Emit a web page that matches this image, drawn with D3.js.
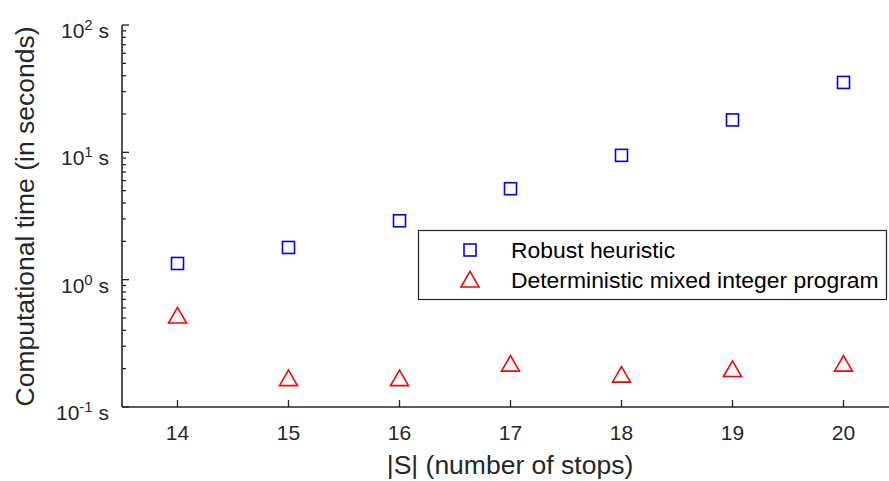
<!DOCTYPE html>
<html>
<head>
<meta charset="utf-8">
<script src="https://cdn.jsdelivr.net/npm/d3@7"></script>
<style>
  html, body { margin: 0; padding: 0; background: #fff; }
  svg { display: block; font-family: "Liberation Sans", Arial, Helvetica, sans-serif; }
</style>
</head>
<body>
<svg id="chart" width="889" height="481"></svg>
<script>
// Number of stops |S|
const stops = [14, 15, 16, 17, 18, 19, 20];
// Computational time in seconds
const robustHeuristic = [1.34, 1.79, 2.90, 5.18, 9.47, 17.96, 35.4];
const deterministicMIP = [0.518, 0.167, 0.167, 0.217, 0.178, 0.197, 0.217];
// Axis ticks
const xTicks = [14, 15, 16, 17, 18, 19, 20];
const yExponents = [-1, 0, 1, 2];
const seriesNames = ["Robust heuristic", "Deterministic mixed integer program"];

const svg = d3.select("#chart");
const axisColor = "#262626";
const plotLeft = 122, plotTop = 25, plotBottom = 407, plotRight = 899;

const x = d3.scaleLinear().domain([13.5, 20.5]).range([plotLeft, plotRight]);
const y = d3.scaleLog().domain([0.1, 100]).range([plotBottom, plotTop]);

// Y axis: majors at each decade, minors at 2..9, ticks pointing inward
const minorY = [];
for (let e = -1; e < 2; e++) for (let m = 2; m <= 9; m++) minorY.push(m * Math.pow(10, e));

const yg = svg.append("g");
yg.append("line").attr("x1", plotLeft).attr("x2", plotLeft).attr("y1", plotTop).attr("y2", plotBottom)
  .attr("stroke", axisColor).attr("stroke-width", 1.6);
yg.selectAll("line.minor").data(minorY).join("line").attr("class", "minor")
  .attr("x1", plotLeft).attr("x2", plotLeft + 4).attr("y1", d => y(d)).attr("y2", d => y(d))
  .attr("stroke", axisColor).attr("stroke-width", 1.3);
yg.selectAll("line.major").data(yExponents).join("line").attr("class", "major")
  .attr("x1", plotLeft).attr("x2", plotLeft + 7).attr("y1", d => y(Math.pow(10, d))).attr("y2", d => y(Math.pow(10, d)))
  .attr("stroke", axisColor).attr("stroke-width", 1.3);

const yl = yg.selectAll("text.ylab").data(yExponents).join("text").attr("class", "ylab")
  .attr("x", plotLeft - 13).attr("y", d => y(Math.pow(10, d)) + 13)
  .attr("text-anchor", "end").attr("fill", axisColor).attr("font-size", 21);
yl.append("tspan").text("10");
yl.append("tspan").attr("dy", -8).attr("font-size", 15).text(d => d);
yl.append("tspan").attr("dy", 8).text(" s");

// X axis
const xg = svg.append("g");
xg.append("line").attr("x1", plotLeft).attr("x2", plotRight).attr("y1", plotBottom).attr("y2", plotBottom)
  .attr("stroke", axisColor).attr("stroke-width", 1.6);
xg.selectAll("line.tick").data(xTicks).join("line").attr("class", "tick")
  .attr("x1", d => x(d)).attr("x2", d => x(d)).attr("y1", plotBottom).attr("y2", plotBottom - 7)
  .attr("stroke", axisColor).attr("stroke-width", 1.3);
xg.selectAll("text").data(xTicks).join("text")
  .attr("x", d => x(d)).attr("y", plotBottom + 33)
  .attr("text-anchor", "middle").attr("fill", axisColor).attr("font-size", 21)
  .text(d => d);

// Axis titles
svg.append("text").attr("x", 510).attr("y", 474)
  .attr("text-anchor", "middle").attr("fill", axisColor).attr("font-size", 26.5)
  .text("|S| (number of stops)");
svg.append("text").attr("transform", `translate(34,${(28 + 405) / 2}) rotate(-90)`)
  .attr("text-anchor", "middle").attr("fill", axisColor).attr("font-size", 26.5)
  .text("Computational time (in seconds)");

// Markers
const sq = 12;
const triPath = (cx, cy, s) => {
  const h = s * 0.866;
  return `M${cx},${cy - h * 0.55}L${cx + s / 2},${cy + h * 0.45}L${cx - s / 2},${cy + h * 0.45}Z`;
};

svg.append("g").selectAll("rect").data(stops).join("rect")
  .attr("x", (d, i) => x(d) - sq / 2).attr("y", (d, i) => y(robustHeuristic[i]) - sq / 2)
  .attr("width", sq).attr("height", sq)
  .attr("fill", "none").attr("stroke", "#0000ff").attr("stroke-width", 1.6);

svg.append("g").selectAll("path").data(stops).join("path")
  .attr("d", (d, i) => triPath(x(d), y(deterministicMIP[i]), 18))
  .attr("fill", "none").attr("stroke", "#ff0000").attr("stroke-width", 1.6);

// Legend
const lg = svg.append("g");
lg.append("rect").attr("x", 418.5).attr("y", 230.5).attr("width", 468).attr("height", 69)
  .attr("fill", "#fff").attr("stroke", axisColor).attr("stroke-width", 1.2);
lg.append("rect").attr("x", 470 - sq / 2).attr("y", 250 - sq / 2).attr("width", sq).attr("height", sq)
  .attr("fill", "none").attr("stroke", "#0000ff").attr("stroke-width", 1.6);
lg.append("path").attr("d", triPath(470, 280, 18))
  .attr("fill", "none").attr("stroke", "#ff0000").attr("stroke-width", 1.6);
lg.selectAll("text").data(seriesNames).join("text")
  .attr("x", 511).attr("y", (d, i) => 258 + i * 30)
  .attr("fill", "#000").attr("font-size", 22.9)
  .text(d => d);
</script>
</body>
</html>
